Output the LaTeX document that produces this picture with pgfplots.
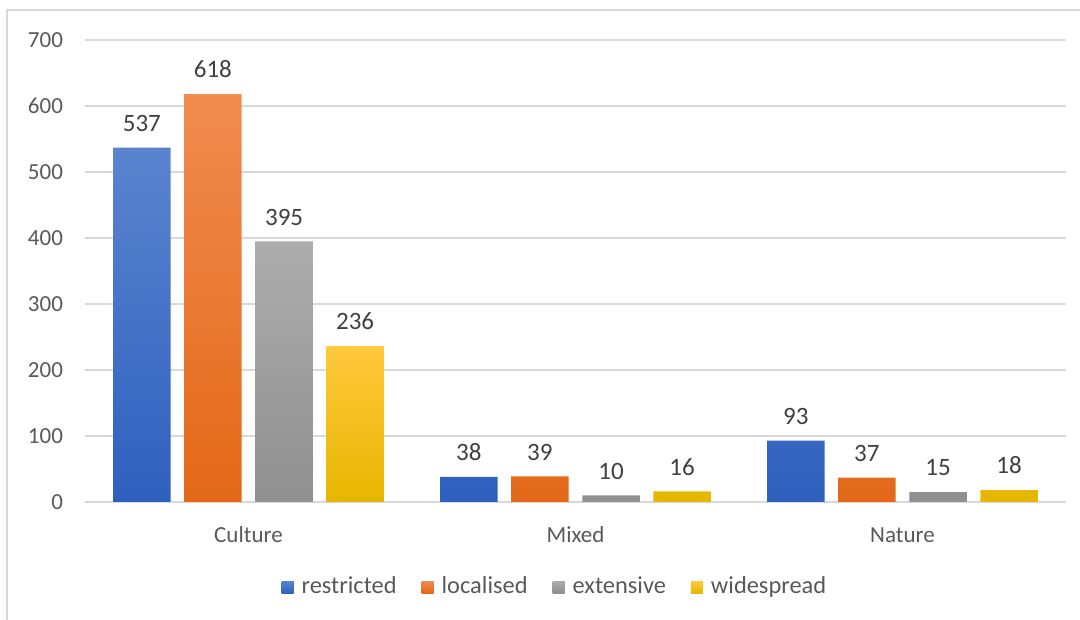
\documentclass[border=0pt]{standalone}
\usepackage{fontspec}
\setmainfont{Carlito}
\usepackage{pgfplots}
\pgfplotsset{compat=1.18}

\definecolor{framegray}{HTML}{D9D9D9}
\definecolor{gridgray}{HTML}{D9D9D9}
\definecolor{ticktext}{HTML}{595959}
\definecolor{labeltext}{HTML}{404040}
\definecolor{blueT}{HTML}{5B84CF}
\definecolor{blueB}{HTML}{2E60BE}
\definecolor{blueL}{HTML}{4472C4}
\definecolor{orangeT}{HTML}{F08C50}
\definecolor{orangeB}{HTML}{E36818}
\definecolor{orangeL}{HTML}{ED7D31}
\definecolor{grayT}{HTML}{ADADAD}
\definecolor{grayB}{HTML}{8F8F8F}
\definecolor{grayL}{HTML}{A5A5A5}
\definecolor{yellowT}{HTML}{FFC93C}
\definecolor{yellowB}{HTML}{E6B700}
\definecolor{yellowL}{HTML}{FFC000}

\begin{document}
\begin{tikzpicture}[x=1pt,y=1pt]
\path[use as bounding box] (0,0) rectangle (540,310);
\draw[framegray, line width=1pt] (3.5,0) -- (3.5,305) -- (540,305);
\begin{axis}[
    at={(42.5pt,59pt)}, anchor=south west,
    scale only axis,
    width=490.5pt, height=231pt,
    xmin=-0.5, xmax=2.5,
    ymin=0, ymax=700,
    ytick={0,100,...,700},
    xtick={0,1,2},
    xticklabels={Culture, Mixed, Nature},
    axis line style={draw=none},
    major tick length=0pt,
    ymajorgrids,
    grid style={gridgray, line width=0.9pt},
    /pgf/number format/assume math mode=true,
    yticklabel style={font=\fontsize{11.5}{14}\selectfont, text=ticktext, xshift=-7.5pt},
    xticklabel style={font=\fontsize{11.5}{14}\selectfont, text=ticktext, yshift=-8pt,
        text height=8.5pt, text depth=0pt},
    ybar,
    bar width=0.176,
    clip=false,
    nodes near coords,
    every node near coord/.append style={font=\fontsize{12.5}{15}\selectfont, text=labeltext, yshift=4.5pt},
    legend columns=4,
    legend style={draw=none, fill=none, at={(0.480,-0.184)}, anchor=center,
        font=\fontsize{12.2}{14}\selectfont, text=ticktext,
        /tikz/every even column/.append style={column sep=10.5pt},
        /tikz/every odd column/.append style={column sep=0pt}},
]
\addplot[draw=none, top color=blueT, bottom color=blueB, bar shift=-0.326,
    legend image code/.code={\fill[blueL] (0pt,-3pt) rectangle (6pt,3pt); \path (8pt,0pt);}]
    coordinates {(0,537) (1,38) (2,93)};
\addplot[draw=none, top color=orangeT, bottom color=orangeB, bar shift=-0.109,
    legend image code/.code={\fill[orangeL] (0pt,-3pt) rectangle (6pt,3pt); \path (8pt,0pt);}]
    coordinates {(0,618) (1,39) (2,37)};
\addplot[draw=none, top color=grayT, bottom color=grayB, bar shift=0.109,
    legend image code/.code={\fill[grayL] (0pt,-3pt) rectangle (6pt,3pt); \path (8pt,0pt);}]
    coordinates {(0,395) (1,10) (2,15)};
\addplot[draw=none, top color=yellowT, bottom color=yellowB, bar shift=0.326,
    legend image code/.code={\fill[yellowL] (0pt,-3pt) rectangle (6pt,3pt); \path (8pt,0pt);}]
    coordinates {(0,236) (1,16) (2,18)};
\legend{restricted, localised, extensive, widespread}
\end{axis}
\end{tikzpicture}
\end{document}
